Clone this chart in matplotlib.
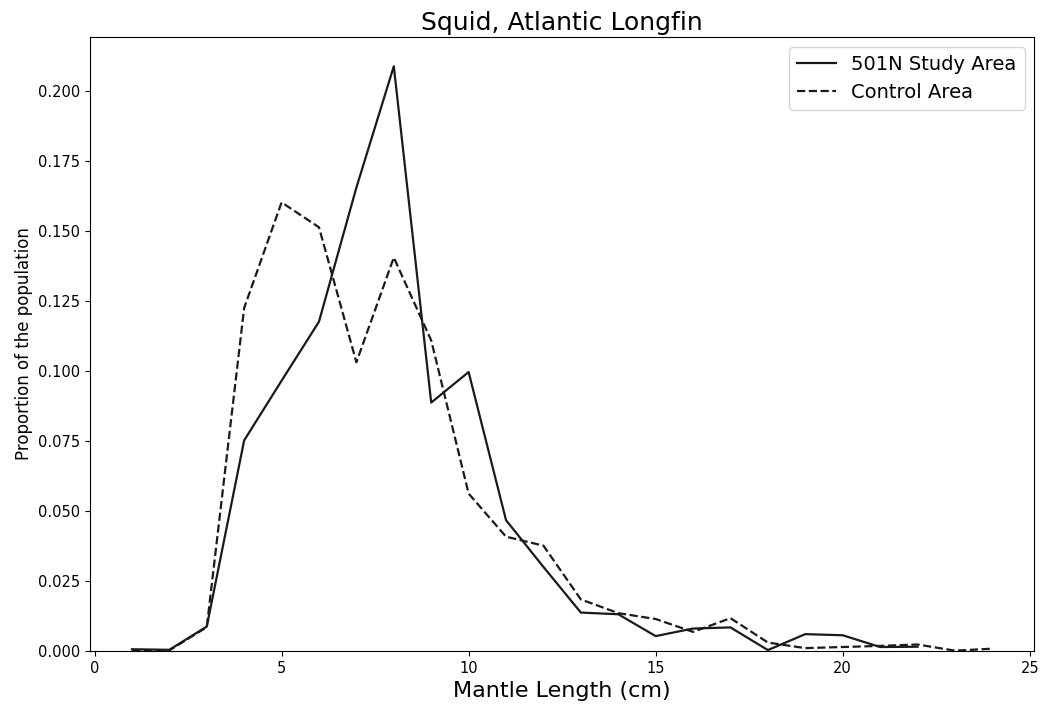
import matplotlib
matplotlib.use("Agg")
import matplotlib.pyplot as plt

lengths_study = [1, 2, 3, 4, 5, 6, 7, 8, 9, 10, 11, 12, 13, 14, 15, 16, 17, 18, 19, 20, 21, 22]
study_area = [0.0006, 0.0004, 0.0087, 0.0752, 0.0965, 0.1176, 0.1655, 0.2088, 0.0887, 0.0996,
              0.0467, 0.0300, 0.0137, 0.0131, 0.0053, 0.0080, 0.0084, 0.0003, 0.0060, 0.0056,
              0.0014, 0.0015]

lengths_control = [1, 2, 3, 4, 5, 6, 7, 8, 9, 10, 11, 12, 13, 14, 15, 16, 17, 18, 19, 20, 21, 22, 23, 24]
control_area = [0.0003, 0.0002, 0.0085, 0.1225, 0.1602, 0.1513, 0.1031, 0.1405, 0.1109, 0.0562,
                0.0408, 0.0376, 0.0184, 0.0135, 0.0114, 0.0068, 0.0117, 0.0030, 0.0010, 0.0014,
                0.0018, 0.0023, 0.0001, 0.0008]

fig = plt.figure(figsize=(10.41, 7.06), dpi=100)
ax = fig.add_axes([0.0865, 0.078, 0.907, 0.8695])
ax.plot(lengths_study, study_area, color='#1a1a1a', linestyle='-', linewidth=1.6, label='501N Study Area')
ax.plot(lengths_control, control_area, color='#1a1a1a', linestyle='--', linewidth=1.6, label='Control Area')
ax.set_ylim(0, None)
ax.set_xlim(-0.12, 25.12)
ax.set_xticks([0, 5, 10, 15, 20, 25])
ax.set_yticks([0.0, 0.025, 0.05, 0.075, 0.1, 0.125, 0.15, 0.175, 0.2])
ax.set_yticklabels(['0.000', '0.025', '0.050', '0.075', '0.100', '0.125', '0.150', '0.175', '0.200'])
ax.tick_params(labelsize=10.5)
ax.set_xlabel('Mantle Length (cm)', fontsize=16)
ax.set_ylabel('Proportion of the population', fontsize=12)
ax.set_title('Squid, Atlantic Longfin', fontsize=18, pad=5)
ax.legend(loc='upper right', fontsize=14)
fig.savefig('out.png')
